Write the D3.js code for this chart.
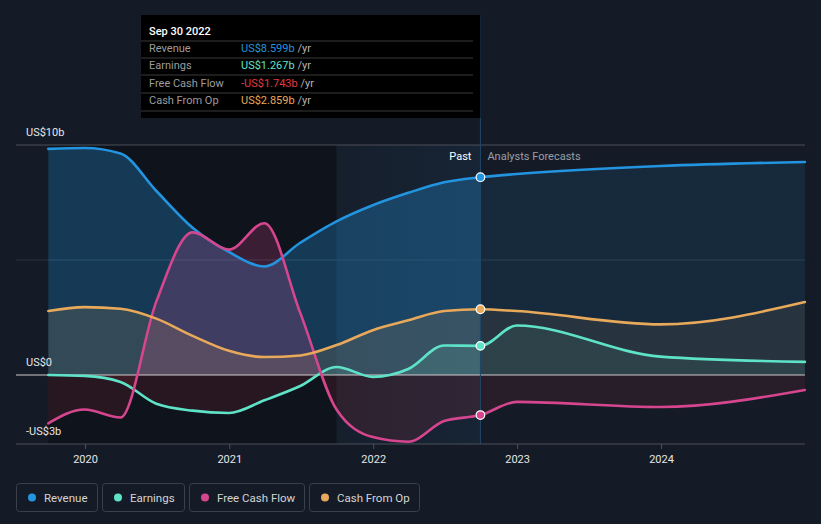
<!DOCTYPE html>
<html>
<head>
<meta charset="utf-8">
<script src="https://cdn.jsdelivr.net/npm/d3@7"></script>
<style>
  html, body { margin: 0; padding: 0; background: #151b26; }
  svg { display: block; font-family: Roboto, "Noto Sans", sans-serif; }
</style>
</head>
<body>
<svg id="chart" width="821" height="524"></svg>
<script>
// ---------- data (US$ billions) ----------
const pastDates = ["2019-09-30","2019-12-31","2020-03-31","2020-06-30","2020-09-30","2020-12-31","2021-03-31","2021-06-30","2021-09-30","2021-12-31","2022-03-31","2022-06-30","2022-09-30"];
const forecastDates = ["2022-09-30","2022-12-31","2023-12-31","2024-12-31"];

const revenuePast = [9.83, 9.87, 9.63, 8.0, 6.4, 5.35, 4.72, 5.75, 6.68, 7.38, 7.92, 8.38, 8.599];
const revenueForecast = [8.599, 8.74, 9.09, 9.26];

const earningsPast = [0.0, -0.04, -0.3, -1.25, -1.55, -1.65, -1.1, -0.48, 0.35, -0.08, 0.26, 1.28, 1.267];
const earningsForecast = [1.267, 2.15, 0.8, 0.57];

const fcfPast = [-2.1, -1.5, -1.85, 3.2, 6.2, 5.45, 6.6, 2.7, -1.5, -2.7, -2.9, -2.0, -1.743];
const fcfForecast = [-1.743, -1.17, -1.39, -0.65];

const cfoPast = [2.78, 2.95, 2.88, 2.45, 1.7, 1.05, 0.78, 0.85, 1.3, 1.95, 2.38, 2.78, 2.859];
const cfoForecast = [2.859, 2.78, 2.2, 3.17];

const seriesNames = ["Revenue", "Earnings", "Free Cash Flow", "Cash From Op"];
const seriesColors = ["#2394df", "#5ee3c9", "#d6468f", "#e8a95a"];

const yTickValues = [10, 5, 0, -3];
const yTickLabels = ["US$10b", "", "US$0", "-US$3b"];
const xTickYears = [2020, 2021, 2022, 2023, 2024];

const tooltipTitle = "Sep 30 2022";
const tooltipValues = ["US$8.599b", "US$1.267b", "-US$1.743b", "US$2.859b"];
const tooltipValueColors = ["#2394df", "#5ee3c9", "#e5393f", "#e8a95a"];

// ---------- setup ----------
const parse = d3.timeParse("%Y-%m-%d");
const svg = d3.select("#chart");

const x = d3.scaleTime()
  .domain([new Date(2020, 0, 1), new Date(2024, 0, 1)])
  .range([85, 661]);
const y = d3.scaleLinear().domain([-3, 10]).range([444, 145]);

const plotLeft = x(parse(pastDates[0]));
const plotRight = x(parse(forecastDates[forecastDates.length - 1]));
const nowX = x(parse(pastDates[pastDates.length - 1]));
const bandX = x(parse("2021-09-30"));

function buildSeries(past, fc) {
  const pts = past.map((v, i) => ({ d: parse(pastDates[i]), v }));
  fc.slice(1).forEach((v, i) => pts.push({ d: parse(forecastDates[i + 1]), v }));
  return pts;
}
const allSeries = [
  buildSeries(revenuePast, revenueForecast),
  buildSeries(earningsPast, earningsForecast),
  buildSeries(fcfPast, fcfForecast),
  buildSeries(cfoPast, cfoForecast)
];

const defs = svg.append("defs");

// background overlays
svg.append("rect").attr("x", plotLeft).attr("y", 145)
  .attr("width", bandX - plotLeft).attr("height", 444 - 145)
  .attr("fill", "rgba(0,0,0,0.27)");
const bandGrad = defs.append("linearGradient").attr("id", "bandGrad")
  .attr("x1", 0).attr("x2", 1).attr("y1", 0).attr("y2", 0);
bandGrad.append("stop").attr("offset", 0).attr("stop-color", "#2a78b8").attr("stop-opacity", 0.04);
bandGrad.append("stop").attr("offset", 1).attr("stop-color", "#2a78b8").attr("stop-opacity", 0.1);
svg.append("rect").attr("x", bandX).attr("y", 145)
  .attr("width", nowX - bandX).attr("height", 444 - 145)
  .attr("fill", "url(#bandGrad)");

// grid lines
svg.append("line").attr("x1", 16).attr("x2", plotRight).attr("y1", y(10)).attr("y2", y(10))
  .attr("stroke", "#4a4f58").attr("stroke-width", 1);
svg.append("line").attr("x1", 16).attr("x2", plotRight).attr("y1", y(5)).attr("y2", y(5))
  .attr("stroke", "#2b3441").attr("stroke-width", 1);

// clip paths
defs.append("clipPath").attr("id", "clipPos").append("rect")
  .attr("x", 0).attr("y", 0).attr("width", 821).attr("height", y(0));
defs.append("clipPath").attr("id", "clipNeg").append("rect")
  .attr("x", 0).attr("y", y(0)).attr("width", 821).attr("height", 524 - y(0));

const frac = (nowX - plotLeft) / (plotRight - plotLeft);
const pastOp = [0.3, 0.14, 0.22, 0.14];
const fcOp = [0.12, 0.08, 0.08, 0.08];

const area = d3.area().x(d => x(d.d)).y0(y(0)).y1(d => y(d.v)).curve(d3.curveMonotoneX);
const line = d3.line().x(d => x(d.d)).y(d => y(d.v)).curve(d3.curveMonotoneX);

// negative-region gradient (reddish)
const negGrad = defs.append("linearGradient").attr("id", "negGrad")
  .attr("gradientUnits", "userSpaceOnUse")
  .attr("x1", plotLeft).attr("x2", plotRight).attr("y1", 0).attr("y2", 0);
negGrad.append("stop").attr("offset", 0).attr("stop-color", "#c0303f").attr("stop-opacity", 0.14);
negGrad.append("stop").attr("offset", frac).attr("stop-color", "#c0303f").attr("stop-opacity", 0.14);
negGrad.append("stop").attr("offset", frac).attr("stop-color", "#c0303f").attr("stop-opacity", 0.11);
negGrad.append("stop").attr("offset", 1).attr("stop-color", "#c0303f").attr("stop-opacity", 0.11);

allSeries.forEach((s, i) => {
  const g = defs.append("linearGradient").attr("id", "grad" + i)
    .attr("gradientUnits", "userSpaceOnUse")
    .attr("x1", plotLeft).attr("x2", plotRight).attr("y1", 0).attr("y2", 0);
  g.append("stop").attr("offset", 0).attr("stop-color", seriesColors[i]).attr("stop-opacity", pastOp[i]);
  g.append("stop").attr("offset", frac).attr("stop-color", seriesColors[i]).attr("stop-opacity", pastOp[i]);
  g.append("stop").attr("offset", frac).attr("stop-color", seriesColors[i]).attr("stop-opacity", fcOp[i]);
  g.append("stop").attr("offset", 1).attr("stop-color", seriesColors[i]).attr("stop-opacity", fcOp[i]);
});

// areas (positive part colored, negative part reddish)
allSeries.forEach((s, i) => {
  svg.append("path").datum(s).attr("d", area)
    .attr("fill", "url(#grad" + i + ")").attr("clip-path", "url(#clipPos)");
  svg.append("path").datum(s).attr("d", area)
    .attr("fill", "url(#negGrad)").attr("clip-path", "url(#clipNeg)");
});

// zero line
svg.append("line").attr("x1", 16).attr("x2", plotRight).attr("y1", y(0)).attr("y2", y(0))
  .attr("stroke", "#cfc9cc").attr("stroke-width", 1.2);

// lines
allSeries.forEach((s, i) => {
  svg.append("path").datum(s).attr("d", line)
    .attr("fill", "none").attr("stroke", seriesColors[i]).attr("stroke-width", 2.6)
    .attr("stroke-linecap", "round");
});

// vertical "now" line
svg.append("line").attr("x1", nowX).attr("x2", nowX).attr("y1", 15).attr("y2", 444)
  .attr("stroke", "#1f4868").attr("stroke-width", 1);

// bottom axis
const xAxis = d3.axisBottom(x)
  .tickValues(xTickYears.map(yv => new Date(yv, 0, 1)))
  .tickFormat(d3.timeFormat("%Y"))
  .tickSize(5).tickPadding(6);
const axG = svg.append("g").attr("transform", `translate(0,${y(-3)})`).call(xAxis);
axG.select(".domain").remove();
axG.selectAll(".tick line").attr("stroke", "#4a4f58");
axG.selectAll(".tick text").attr("fill", "#e6e6e6").attr("font-size", 11)
  .attr("font-family", "Roboto, sans-serif");
svg.append("line").attr("x1", 16).attr("x2", plotRight).attr("y1", y(-3)).attr("y2", y(-3))
  .attr("stroke", "#4a4f58").attr("stroke-width", 1);

// y labels
yTickValues.forEach((v, i) => {
  if (!yTickLabels[i]) return;
  svg.append("text").attr("x", 26).attr("y", y(v) - 9)
    .attr("fill", "#e6e6e6").attr("font-size", 11).text(yTickLabels[i]);
});

// marker dots
allSeries.forEach((s, i) => {
  const last = pastDates.length - 1;
  svg.append("circle").attr("cx", x(s[last].d)).attr("cy", y(s[last].v)).attr("r", 4.3)
    .attr("fill", seriesColors[i]).attr("stroke", "#ffffff").attr("stroke-width", 1.2);
});

// Past / Analysts Forecasts
svg.append("text").attr("x", nowX - 9).attr("y", 160).attr("text-anchor", "end")
  .attr("fill", "#ffffff").attr("font-size", 11).text("Past");
svg.append("text").attr("x", nowX + 7).attr("y", 160)
  .attr("fill", "#9a9ea6").attr("font-size", 11).text("Analysts Forecasts");

// tooltip
const tip = svg.append("g");
tip.append("rect").attr("x", 141).attr("y", 15).attr("width", nowX - 141).attr("height", 103)
  .attr("fill", "#000000");
tip.append("text").attr("x", 149).attr("y", 35).attr("fill", "#ffffff")
  .attr("font-size", 11).attr("font-weight", 500).text(tooltipTitle);
const rowY = [52, 69, 87, 104];
[41, 58, 75, 93, 111].forEach(ly => {
  tip.append("line").attr("x1", 141).attr("x2", 473).attr("y1", ly).attr("y2", ly)
    .attr("stroke", "#3a3a3a").attr("stroke-width", 1);
});
seriesNames.forEach((n, i) => {
  tip.append("text").attr("x", 149).attr("y", rowY[i]).attr("fill", "#9c9c9c")
    .attr("font-size", 11).text(n);
  const t = tip.append("text").attr("x", 241).attr("y", rowY[i]).attr("font-size", 11);
  t.append("tspan").attr("fill", tooltipValueColors[i]).text(tooltipValues[i]);
  t.append("tspan").attr("fill", "#b5b5b5").text(" /yr");
});

// legend
const legendX = [16, 102, 189, 309];
const legendW = [81, 82, 115, 110];
seriesNames.forEach((n, i) => {
  const g = svg.append("g").attr("transform", `translate(${legendX[i]},483)`);
  g.append("rect").attr("x", 0.5).attr("y", 0.5).attr("width", legendW[i]).attr("height", 28)
    .attr("rx", 3).attr("fill", "none").attr("stroke", "#3b414c");
  g.append("circle").attr("cx", 16).attr("cy", 14.5).attr("r", 4).attr("fill", seriesColors[i]);
  g.append("text").attr("x", 28).attr("y", 18.5).attr("fill", "#d4d4d4")
    .attr("font-size", 11.5).text(n);
});
</script>
</body>
</html>
